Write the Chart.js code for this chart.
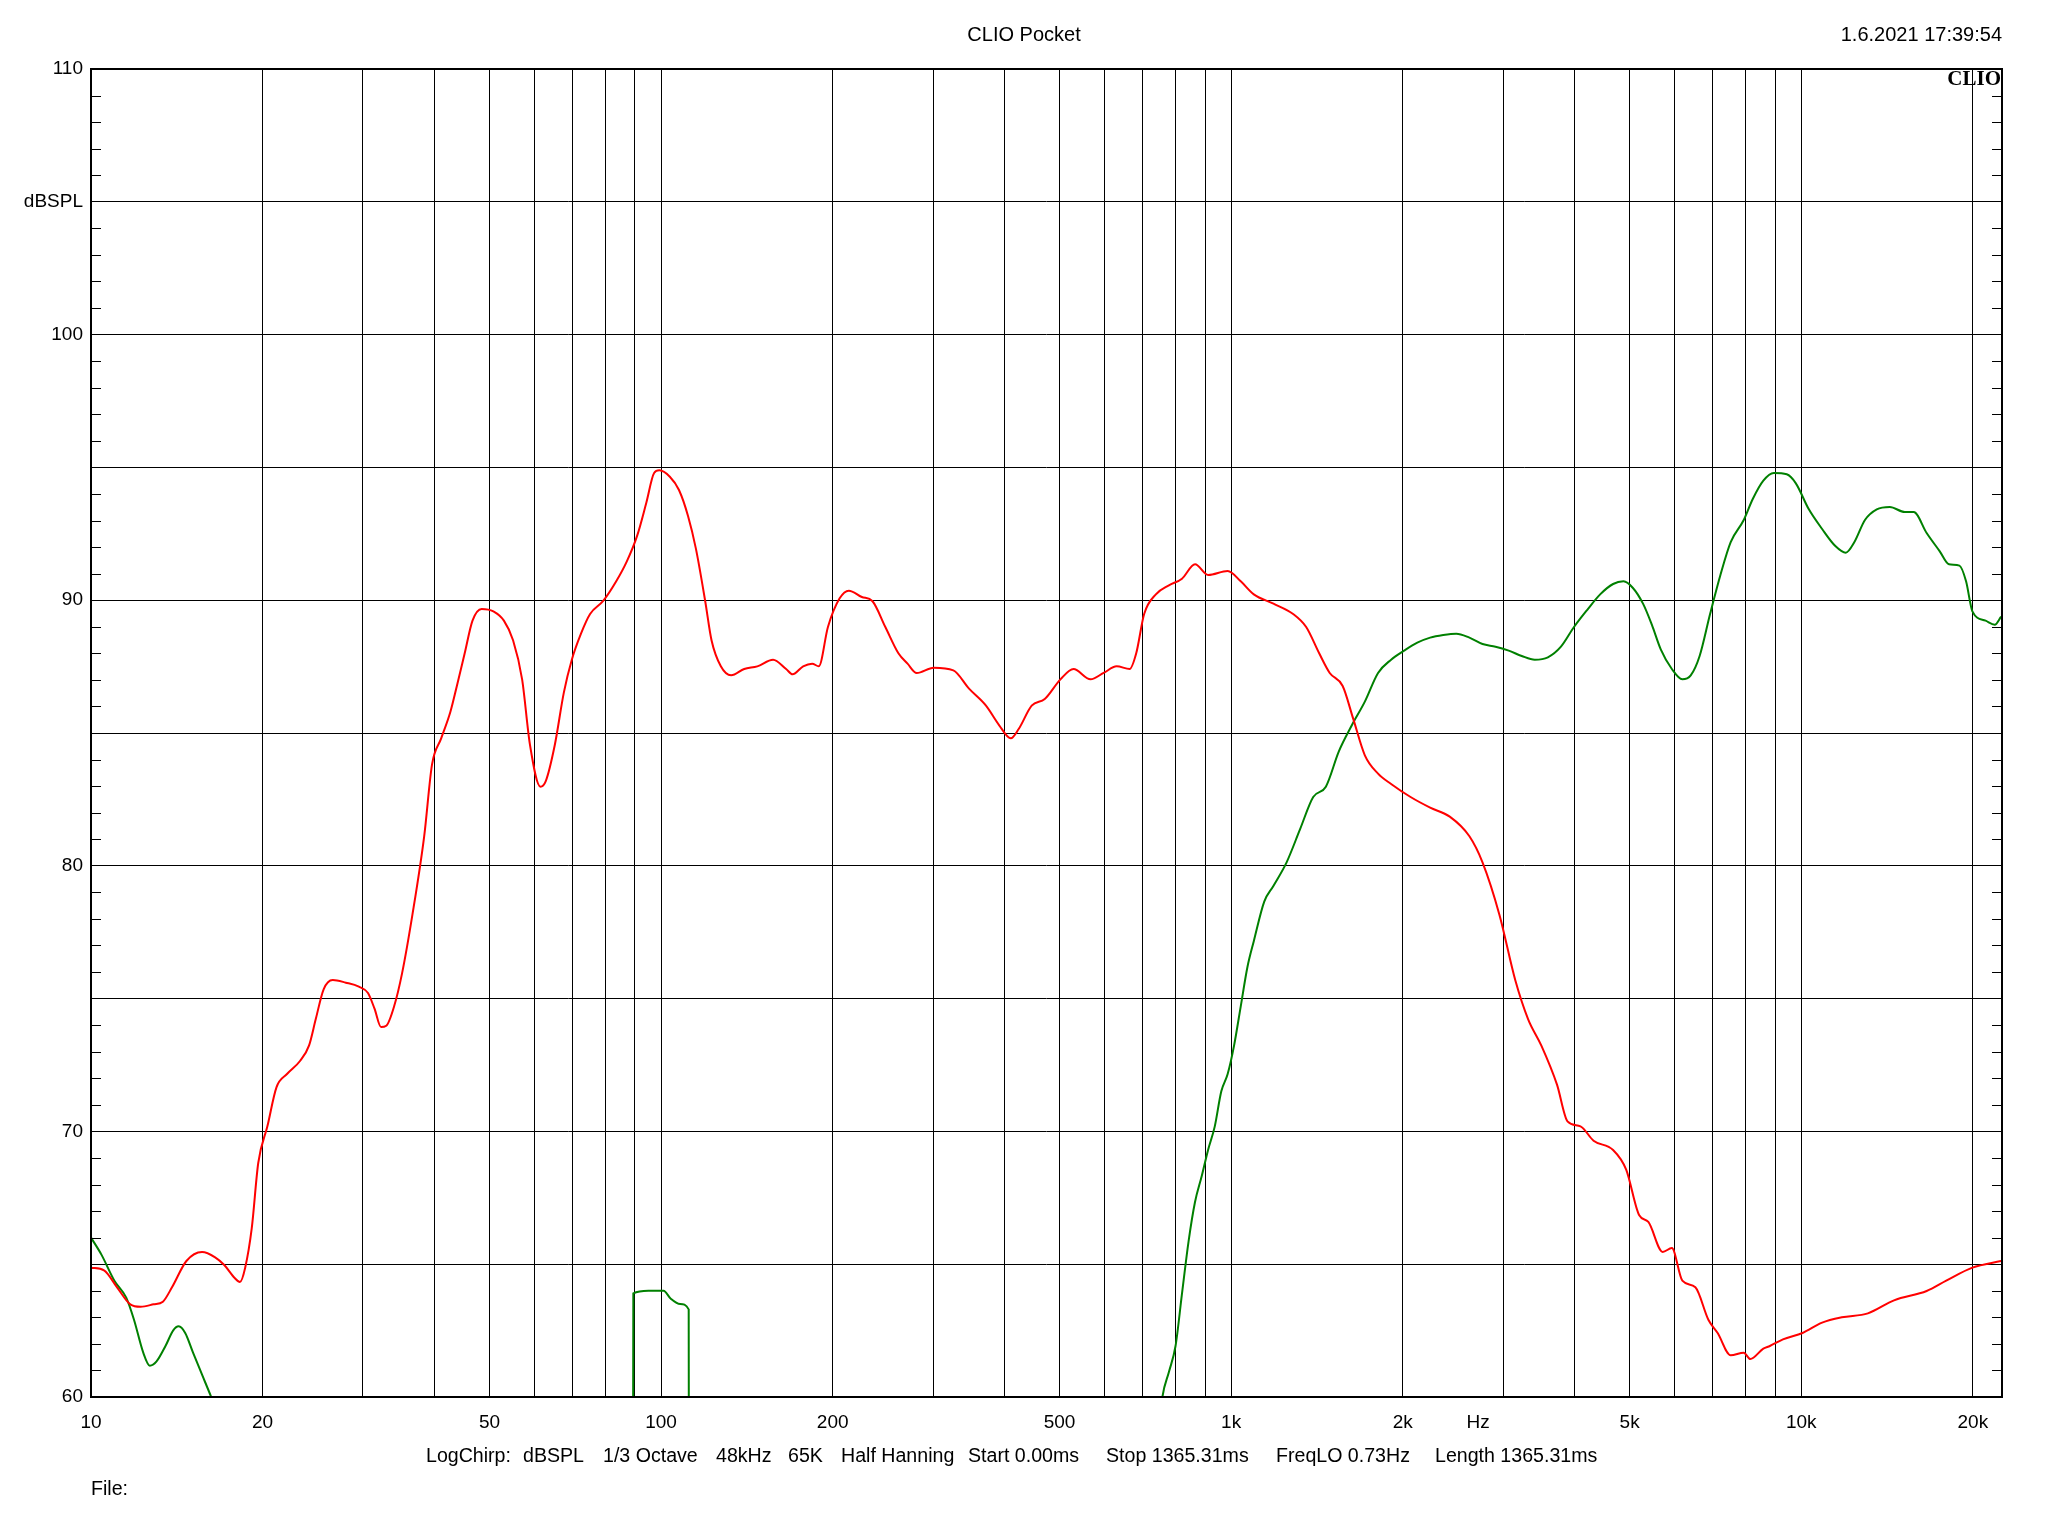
<!DOCTYPE html>
<html>
<head>
<meta charset="utf-8">
<script src="https://cdn.jsdelivr.net/npm/chart.js@4.4.1/dist/chart.umd.min.js"></script>
<style>
  html, body { margin: 0; padding: 0; background: #ffffff; }
  canvas { display: block; }
</style>
</head>
<body>
<canvas id="c" width="2048" height="1536" style="width:2048px;height:1536px"></canvas>
<script>
// ---------- DATA ----------
const redFreq = [10, 10.54, 11.11, 11.72, 12.22, 12.88, 13.37, 13.87, 14.7, 15.66, 16.51, 17.13, 17.87, 18.25, 18.64, 19.14, 19.65, 20.39, 21.15, 22.07, 23.26, 24.13, 24.79, 25.59, 26.55, 27.99, 29.5, 30.61, 31.43, 32.27, 32.96, 34.02, 35.12, 36.63, 38.41, 39.65, 41.14, 42.69, 43.83, 45.24, 46.69, 48.45, 50.8, 53.0, 55.0, 57.05, 58.88, 61.43, 62.74, 65.11, 67.53, 69.73, 72.36, 75.07, 79.15, 83.43, 87.04, 90.8, 94.19, 97.23, 99.3, 103.6, 107.5, 111.5, 115.1, 119.5, 122.6, 127.3, 132.7, 139.9, 147.5, 157.2, 165.7, 170.1, 177.5, 184.1, 189.1, 196.2, 205.7, 213.5, 225, 234.7, 247.4, 260.8, 270.6, 280.8, 300.8, 325.6, 346.9, 371.5, 391.6, 410.6, 423.9, 446.8, 471, 501.8, 529, 566.6, 597.3, 629.7, 663.8, 681.5, 703.7, 737.8, 777.7, 819.9, 864.3, 911.2, 986, 1039.5, 1095.8, 1186.4, 1284.4, 1354, 1427, 1489, 1569, 1637, 1716, 1810, 1908, 2064, 2234, 2418, 2618, 2760, 2955, 3150, 3319, 3499, 3729, 3890, 4100, 4322, 4677, 4931, 5198, 5393, 5715, 5930, 6186, 6521, 6876, 7135, 7521, 7928, 8140, 8581, 8810, 9288, 10053, 10881, 11778, 13090, 14546, 16596, 17963, 19964, 22418];
const redDb = [64.87, 64.77, 64.13, 63.49, 63.4, 63.49, 63.59, 64.13, 65.12, 65.46, 65.26, 64.97, 64.48, 64.33, 64.87, 66.35, 68.81, 70.19, 71.66, 72.16, 72.65, 73.24, 74.23, 75.35, 75.7, 75.6, 75.45, 75.21, 74.62, 73.93, 73.98, 74.71, 75.94, 78.16, 81.11, 83.82, 84.8, 85.79, 86.77, 88.0, 89.23, 89.67, 89.58, 89.23, 88.49, 87.02, 84.56, 82.98, 83.18, 84.56, 86.53, 87.76, 88.74, 89.48, 89.97, 90.71, 91.45, 92.43, 93.66, 94.79, 94.89, 94.65, 94.15, 93.17, 91.94, 89.97, 88.49, 87.51, 87.17, 87.41, 87.51, 87.76, 87.41, 87.21, 87.51, 87.61, 87.51, 88.99, 90.07, 90.36, 90.12, 89.97, 88.99, 88.0, 87.61, 87.26, 87.46, 87.36, 86.67, 86.03, 85.3, 84.8, 85.15, 86.03, 86.28, 87.02, 87.41, 87.02, 87.26, 87.51, 87.41, 88.0, 89.48, 90.22, 90.56, 90.81, 91.35, 90.95, 91.1, 90.71, 90.22, 89.87, 89.48, 88.99, 88.0, 87.26, 86.77, 85.54, 84.16, 83.47, 83.08, 82.59, 82.19, 81.85, 81.11, 80.13, 78.16, 75.7, 74.22, 73.24, 71.76, 70.38, 70.19, 69.65, 69.3, 68.56, 66.84, 66.59, 65.46, 65.61, 64.38, 64.13, 62.9, 62.41, 61.57, 61.67, 61.43, 61.82, 61.92, 62.17, 62.41, 62.8, 63.0, 63.15, 63.64, 63.99, 64.38, 64.87, 65.12];

const greenFreq = [10, 10.43, 10.99, 11.53, 11.9, 12.35, 12.68, 13.02, 13.51, 13.94, 14.25, 14.63, 15.1, 15.66, 16.25, 16.8, null,
  89.2, 89.4, 95, 101, 104, 108, 111.8, 112.0, null,
  745, 757.5, 777.7, 798.8, 819.9, 842, 864, 888, 911, 936, 961, 986, 1012, 1039.5, 1068, 1096, 1143, 1186, 1251, 1320, 1393, 1466, 1545, 1629, 1716, 1810, 1908, 2011, 2121, 2234, 2355, 2483, 2618, 2760, 2909, 3068, 3234, 3409, 3594, 3789, 3994, 4211, 4439, 4677, 4877, 5063, 5278, 5469, 5670, 5930, 6186, 6400, 6634, 6920, 7217, 7521, 7928, 8222, 8581, 8952, 9432, 9785, 10313, 10881, 11477, 11971, 12396, 12935, 13568, 14300, 15190, 15752, 16596, 17499, 18164, 18948, 19460, 19964, 21057, 21854, 22418];
const greenDb = [66.0, 65.36, 64.38, 63.74, 62.9, 61.67, 61.18, 61.33, 61.92, 62.51, 62.66, 62.41, 61.67, 60.84, 60.0, 59.2, null,
  50, 63.9, 64.0, 64.0, 63.7, 63.5, 63.3, 50, null,
  58.5, 60.0, 60.94, 61.92, 63.89, 65.86, 67.33, 68.32, 69.3, 70.19, 71.51, 72.16, 73.24, 74.71, 76.19, 77.17, 78.65, 79.24, 80.13, 81.36, 82.59, 82.98, 84.31, 85.3, 86.18, 87.26, 87.76, 88.1, 88.4, 88.59, 88.69, 88.74, 88.59, 88.35, 88.25, 88.1, 87.9, 87.76, 87.85, 88.25, 88.99, 89.63, 90.22, 90.61, 90.71, 90.47, 89.87, 89.08, 88.15, 87.41, 87.02, 87.17, 87.9, 89.48, 90.96, 92.19, 93.02, 93.81, 94.5, 94.79, 94.74, 94.4, 93.42, 92.68, 92.04, 91.79, 92.19, 93.02, 93.42, 93.51, 93.32, 93.32, 92.53, 91.84, 91.35, 91.3, 90.71, 89.58, 89.23, 89.08, 89.38];

const xGridValues = [20, 30, 40, 50, 60, 70, 80, 90, 100, 200, 300, 400, 500, 600, 700, 800, 900, 1000, 2000, 3000, 4000, 5000, 6000, 7000, 8000, 9000, 10000, 20000];
const xLabelValues = [10, 20, 50, 100, 200, 500, 1000, 2000, 2712, 5000, 10000, 20000];
const xLabelTexts  = ['10', '20', '50', '100', '200', '500', '1k', '2k', 'Hz', '5k', '10k', '20k'];
const HZ_POS = 2712;
const yTickValues = [60, 65, 70, 75, 80, 85, 90, 95, 100, 105, 110];
const yLabelMap = {60: '60', 70: '70', 80: '80', 90: '90', 100: '100', 105: 'dBSPL', 110: '110'};

const titleText = 'CLIO Pocket';
const dateText = '1.6.2021 17:39:54';
const logoText = 'CLIO';
const footerItems = [
  ['LogChirp:', 426], ['dBSPL', 523], ['1/3 Octave', 603], ['48kHz', 716], ['65K', 788],
  ['Half Hanning', 841], ['Start 0.00ms', 968], ['Stop 1365.31ms', 1106], ['FreqLO 0.73Hz', 1276],
  ['Length 1365.31ms', 1435]
];
const fileText = 'File:';

// ---------- BUILD ----------
function pts(fx, fy) {
  return fx.map((f, i) => (f === null ? {x: null, y: null} : {x: f, y: fy[i]}));
}

const SANS = "'Liberation Sans', Arial, sans-serif";

const decorPlugin = {
  id: 'decor',
  afterDraw(chart) {
    const ctx = chart.ctx;
    const a = chart.chartArea;
    const ys = chart.scales.y;
    ctx.save();
    ctx.strokeStyle = '#000';
    ctx.lineWidth = 1;
    for (let v = 61; v < 110; v++) {
      if (v % 5 === 0) continue;
      const y = Math.round(ys.getPixelForValue(v)) + 0.5;
      ctx.beginPath();
      ctx.moveTo(a.left, y); ctx.lineTo(a.left + 10, y);
      ctx.moveTo(a.right - 10, y); ctx.lineTo(a.right, y);
      ctx.stroke();
    }
    ctx.lineWidth = 2;
    ctx.strokeRect(a.left, a.top, a.right - a.left, a.bottom - a.top);
    ctx.fillStyle = '#000';
    ctx.textBaseline = 'middle';
    ctx.font = '20px ' + SANS;
    ctx.textAlign = 'center';
    ctx.fillText(titleText, 1024, 35);
    ctx.textAlign = 'right';
    ctx.fillText(dateText, 2002, 35);
    ctx.font = '19.6px ' + SANS;
    ctx.textAlign = 'left';
    footerItems.forEach(([t, x]) => ctx.fillText(t, x, 1457));
    ctx.fillText(fileText, 91, 1490);
    ctx.font = "bold 21px 'Liberation Serif', 'Times New Roman', serif";
    ctx.textAlign = 'right';
    ctx.fillText(logoText, 2001, 80);
    ctx.restore();
  }
};

const chart = new Chart(document.getElementById('c'), {
  type: 'line',
  data: {
    datasets: [
      {
        label: 'Red', data: pts(redFreq, redDb), borderColor: '#ff0000', borderWidth: 2,
        pointRadius: 0, cubicInterpolationMode: 'monotone', fill: false, spanGaps: false
      },
      {
        label: 'Green', data: pts(greenFreq, greenDb), borderColor: '#008000', borderWidth: 2,
        pointRadius: 0, cubicInterpolationMode: 'monotone', fill: false, spanGaps: false
      }
    ]
  },
  options: {
    responsive: false,
    animation: false,
    devicePixelRatio: 1,
    layout: { padding: { left: 0, top: 69, right: 46, bottom: 0 } },
    plugins: { legend: { display: false }, tooltip: { enabled: false }, title: { display: false } },
    scales: {
      x: {
        type: 'logarithmic', min: 10, max: 22500,
        afterBuildTicks: (s) => {
          const vals = [...new Set([...xGridValues, ...xLabelValues])].sort((p, q) => p - q);
          s.ticks = vals.map(v => ({ value: v }));
        },
        afterFit: (s) => { s.height = 139; },
        border: { display: false },
        grid: {
          drawTicks: false, lineWidth: 1,
          color: (c) => (c.tick && (c.tick.value === HZ_POS || c.tick.value === 10) ? 'rgba(0,0,0,0)' : '#000')
        },
        ticks: {
          autoSkip: false, maxRotation: 0, minRotation: 0, padding: 14, color: '#000',
          font: { family: SANS, size: 19 },
          callback: (v) => { const i = xLabelValues.indexOf(v); return i >= 0 ? xLabelTexts[i] : ''; }
        }
      },
      y: {
        type: 'linear', min: 60, max: 110,
        afterBuildTicks: (s) => { s.ticks = yTickValues.map(v => ({ value: v })); },
        afterFit: (s) => { s.width = 91; },
        border: { display: false },
        grid: { drawTicks: false, lineWidth: 1, color: '#000' },
        ticks: {
          padding: 8, color: '#000', font: { family: SANS, size: 19 },
          callback: (v) => (yLabelMap[v] !== undefined ? yLabelMap[v] : '')
        }
      }
    }
  },
  plugins: [decorPlugin]
});
</script>
</body>
</html>
